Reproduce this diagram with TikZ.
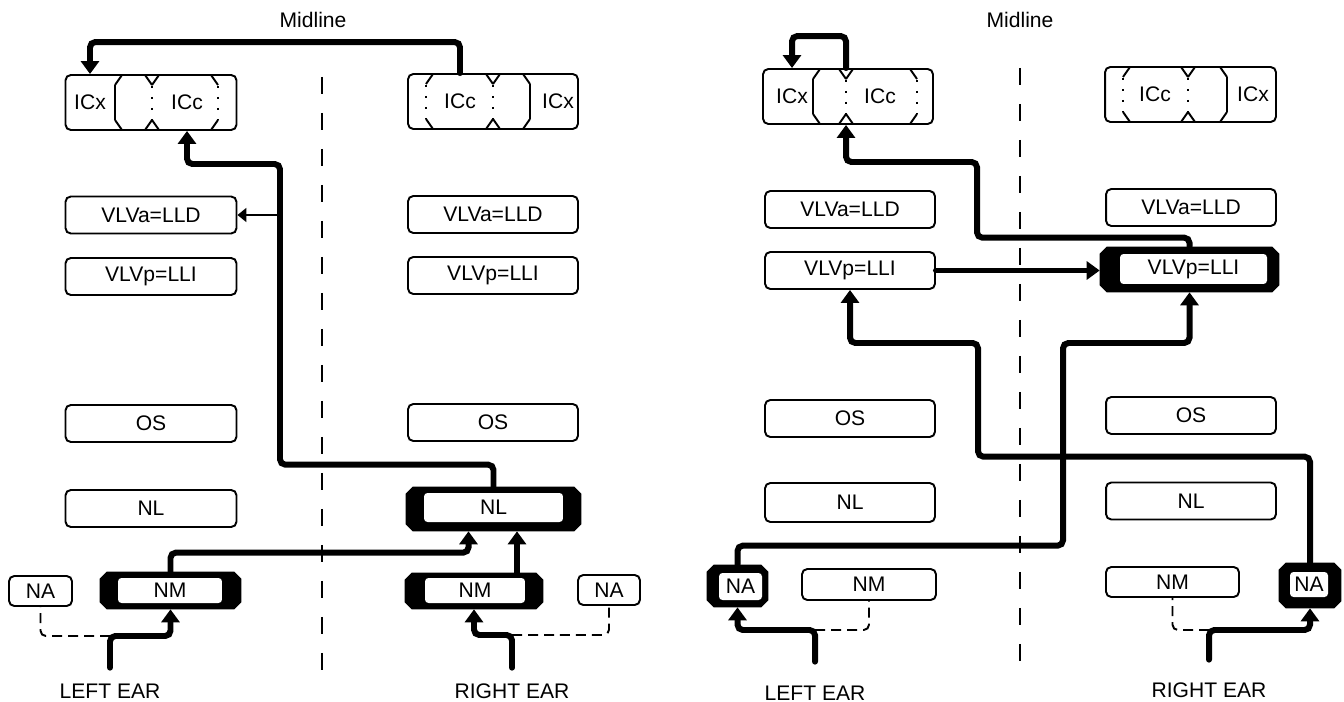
\documentclass[tikz,border=0pt]{standalone}
\usepackage{fontspec}
\setmainfont{Liberation Sans}
\usetikzlibrary{arrows.meta}

\tikzset{
  nuc/.style={draw, line width=1.1pt, rounded corners=3pt, inner sep=0pt, minimum width=3.42cm, minimum height=0.74cm},
  hot/.style={inner sep=0pt, append after command={\pgfextra{\fill ([xshift=4pt]\tikzlastnode.north west) -- ([xshift=-4pt]\tikzlastnode.north east) -- ([yshift=-4pt]\tikzlastnode.north east) -- ([yshift=4pt]\tikzlastnode.south east) -- ([xshift=-4pt]\tikzlastnode.south east) -- ([xshift=4pt]\tikzlastnode.south west) -- ([yshift=4pt]\tikzlastnode.south west) -- ([yshift=-4pt]\tikzlastnode.north west) -- cycle;}}},
  hotin/.style={fill=white, rounded corners=2pt, inner sep=0pt},
  ear/.style={anchor=base, inner sep=0pt, text depth=0pt},
  fib/.style={line width=3.4pt, rounded corners=3pt, line cap=round},
  weak/.style={line width=1.1pt, dash pattern=on 0.2cm off 0.12cm, rounded corners=3pt},
  midl/.style={line width=1.1pt, dash pattern=on 0.34cm off 0.38cm},
  ic/.style={line width=1.1pt},
  icdot/.style={line width=1.3pt, dash pattern=on 0.05cm off 0.17cm}
}
\newcommand{\octo}[4]{\draw[ic] (#1,#3+10) -- (#1+7,#3) (#2-7,#3) -- (#2,#3+10) (#1,#4-10) -- (#1+7,#4) (#2-7,#4) -- (#2,#4-10);}

\begin{document}
\begin{tikzpicture}[x=0.02cm, y=-0.02cm, font=\fontsize{12}{14}\selectfont, >={Triangle[length=0.26cm,width=0.36cm]}]
\useasboundingbox (0,0) rectangle (1344,702);

% left panel
\node (AMid) at (313,20) {Midline};
\draw[midl] (322,77) -- (322,680);
\node[nuc, minimum height=1.1cm] (AlIC) at (151,102.5) {};
\node (AlICx) at (90,102.5) {ICx};\node (AlICc) at (187,102.5) {ICc};
\octo{115}{152}{75}{130}\octo{152}{218}{75}{130}
\draw[ic] (115,85) -- (115,120);\draw[icdot] (152,86) -- (152,120) (218,86) -- (218,120);
\node[nuc, minimum width=3.4cm, minimum height=1.1cm] (ArIC) at (493,101.5) {};
\node (ArICc) at (460,101.5) {ICc};\node (ArICx) at (558,101.5) {ICx};
\octo{426}{493}{74}{129}\octo{493}{530}{74}{129}
\draw[icdot] (426,85) -- (426,119) (493,85) -- (493,119);\draw[ic] (530,84) -- (530,119);
\node[nuc] (AlVLVa) at (151,215) {VLVa=LLD};
\node[nuc] (AlVLVp) at (151,276.5) {VLVp=LLI};
\node[nuc] (AlOS) at (151,423.5) {OS};
\node[nuc] (AlNL) at (151,508.5) {NL};
\node[hot, minimum width=2.82cm, minimum height=0.74cm] (AlNM) at (170.5,590.5) {};
\node[hotin, minimum width=2.08cm, minimum height=0.5cm] (AlNMt) at (170,590.5) {NM};
\node[nuc, minimum width=1.26cm, minimum height=0.6cm] (AlNA) at (40.5,591) {NA};
\node[nuc, minimum width=3.4cm] (ArVLVa) at (493,214.5) {VLVa=LLD};
\node[nuc, minimum width=3.4cm] (ArVLVp) at (493,275.5) {VLVp=LLI};
\node[nuc, minimum width=3.4cm] (ArOS) at (493,422.5) {OS};
\node[hot, minimum width=3.5cm, minimum height=0.88cm] (ArNL) at (493.5,509) {};
\node[hotin, minimum width=2.78cm, minimum height=0.58cm] (ArNLt) at (493.5,507.5) {NL};
\node[hot, minimum width=2.76cm, minimum height=0.72cm] (ArNM) at (474,591) {};
\node[hotin, minimum width=2cm, minimum height=0.5cm] (ArNMt) at (475,590.5) {NM};
\node[nuc, minimum width=1.24cm, minimum height=0.6cm] (ArNA) at (609,590) {NA};
\node[ear, text height=0.6cm] (AlEar) at (110,698) {LEFT EAR};
\node[ear, text height=0.6cm] (ArEar) at (512,698) {RIGHT EAR};
\coordinate (AlEarJ) at (110,636);\coordinate (ArEarJ) at (512,635);\coordinate (Atrunk) at (280,164);
\draw[fib,->] (ArICc |- ArIC.north) -- ++(0,-31) -| (AlICx |- AlIC.north);
\draw[fib,->] (ArNL.north) -- ++(0,-22) -| (Atrunk) -| (AlICc |- AlIC.south);
\draw[line width=1.1pt, -{Triangle[length=0.18cm,width=0.28cm]}] (Atrunk |- AlVLVa.east) -- (AlVLVa.east);
\draw[fib,->] (AlNM.north) -- ++(0,-19) -| ([xshift=-0.5cm]ArNL.south);
\draw[fib,->] ([xshift=0.86cm]ArNM.north) -- ([xshift=0.86cm]ArNM.north |- ArNL.south);
\draw[fib,->] (AlEar.north) -- (AlEarJ) -| (AlNM.south);
\draw[weak] (AlEarJ) -| (AlNA.south);
\draw[fib,->] (ArEar.north) -- (ArEarJ) -| (ArNM.south);
\draw[weak] (ArEarJ) -| (ArNA.south);

% right panel
\node (BMid) at (1020,20) {Midline};
\draw[midl] (1020,68) -- (1020,676);
\node[nuc, minimum width=3.4cm, minimum height=1.1cm] (BlIC) at (848,96.5) {};
\node (BlICx) at (792,96.5) {ICx};\node (BlICc) at (880,96.5) {ICc};
\coordinate (BlICm) at (846,96.5);
\octo{813}{846}{69}{124}\octo{846}{917}{69}{124}
\draw[ic] (813,79) -- (813,114);\draw[icdot] (846,80) -- (846,114) (917,80) -- (917,114);
\node[nuc, minimum height=1.1cm] (BrIC) at (1190.5,94.5) {};
\node (BrICc) at (1155,94.5) {ICc};\node (BrICx) at (1253,94.5) {ICx};
\octo{1123}{1188}{67}{122}\octo{1188}{1227}{67}{122}
\draw[icdot] (1123,78) -- (1123,112) (1188,78) -- (1188,112);\draw[ic] (1227,77) -- (1227,112);
\node[nuc, minimum width=3.4cm] (BlVLVa) at (850,209.5) {VLVa=LLD};
\node[nuc, minimum width=3.4cm] (BlVLVp) at (850,270.5) {VLVp=LLI};
\node[nuc, minimum width=3.4cm] (BlOS) at (850,418.5) {OS};
\node[nuc, minimum width=3.4cm, minimum height=0.78cm] (BlNL) at (850,502.5) {NL};
\node[nuc, minimum width=2.68cm, minimum height=0.62cm] (BlNM) at (869,584.5) {NM};
\node[hot, minimum width=1.22cm, minimum height=0.84cm] (BlNA) at (737.5,586) {};
\node[hotin, minimum width=0.86cm, minimum height=0.54cm] (BlNAt) at (740.5,586.5) {NA};
\node[nuc, minimum width=3.4cm] (BrVLVa) at (1191,207.5) {VLVa=LLD};
\node[hot, minimum width=3.58cm, minimum height=0.9cm] (BrVLVp) at (1189.5,269.5) {};
\node[hotin, minimum width=2.94cm, minimum height=0.6cm] (BrVLVpt) at (1193.5,269) {VLVp=LLI};
\node[nuc, minimum width=3.4cm] (BrOS) at (1191,415.5) {OS};
\node[nuc, minimum width=3.4cm] (BrNL) at (1191,501) {NL};
\node[nuc, minimum width=2.66cm, minimum height=0.6cm] (BrNM) at (1172.5,582) {NM};
\node[hot, minimum width=1.24cm, minimum height=0.9cm] (BrNA) at (1310,585.5) {};
\node[hotin, minimum width=0.76cm, minimum height=0.5cm] (BrNAt) at (1309,584.5) {NA};
\node[ear, text height=0.76cm] (BlEar) at (815,700) {LEFT EAR};
\node[ear, text height=0.74cm] (BrEar) at (1209,697) {RIGHT EAR};
\coordinate (BlEarJ) at (815,630);\coordinate (BrEarJ) at (1209,630);
\draw[fib,->] (BlICm |- BlIC.north) -- ++(0,-32) -| (BlICx |- BlIC.north);
\draw[fib,->] (BrVLVp.north) -- ++(0,-9) -| (977,162) -| (BlICm |- BlIC.south);
\draw[fib,->] (BlVLVp.east) -- (BlVLVp.east -| BrVLVp.west);
\draw[fib,->] (BlNA.north) -- ++(0,-19) -| (1063,343) -| (BrVLVp.south);
\draw[fib,->] (BrNA.north) -- ++(0,-106) -| (978,343) -| (BlVLVp.south);
\draw[fib,->] (BlEar.north) -- (BlEarJ) -| (BlNA.south);
\draw[weak] (BlEarJ) -| (BlNM.south);
\draw[fib,->] (BrEar.north) -- (BrEarJ) -| (BrNA.south);
\draw[weak] (BrEarJ) -| (BrNM.south);
\end{tikzpicture}
\end{document}
